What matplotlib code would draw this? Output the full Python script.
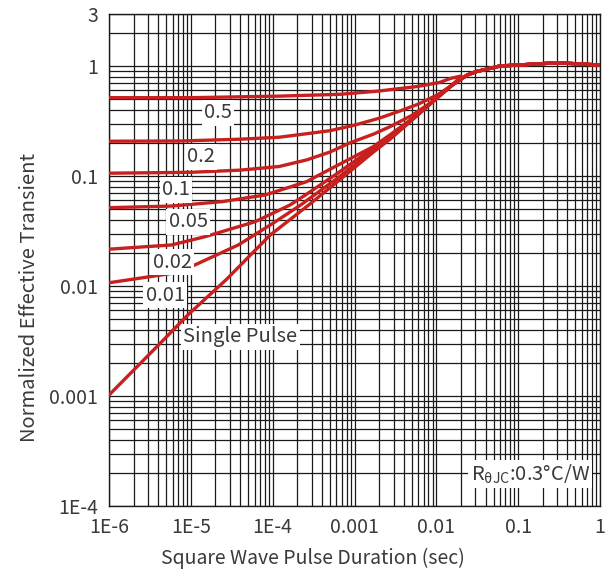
import matplotlib
matplotlib.use("Agg")
import matplotlib.pyplot as plt
from matplotlib.ticker import FixedLocator, LogLocator, NullFormatter

plt.rcParams['font.family'] = ['Noto Sans CJK SC', 'DejaVu Sans']

# shared tail once every curve has merged
tail_t = [0.016, 0.024, 0.031, 0.06, 0.1, 0.3, 1.0]
tail_z = [0.68, 0.83, 0.89, 1.0, 1.02, 1.07, 1.02]

# duty-cycle curves before they merge (pulse duration in sec, normalized Zth)
d05_t = [1e-6, 1e-5, 1.2e-4, 6.7e-4, 1.9e-3, 5.8e-3, 0.0111, 0.0148, 0.02]
d05_z = [0.515, 0.515, 0.532, 0.553, 0.59, 0.65, 0.71, 0.77, 0.81]

d02_t = [1e-6, 7.4e-6, 4e-5, 1.2e-4, 5e-4, 1e-3, 2e-3, 3.6e-3, 6e-3, 0.0105]
d02_z = [0.207, 0.208, 0.216, 0.225, 0.258, 0.29, 0.335, 0.39, 0.45, 0.55]

d01_t = [1e-6, 1e-5, 4e-5, 1.2e-4, 2.6e-4, 5e-4, 8.8e-4, 1.7e-3, 2.7e-3, 5e-3, 8.4e-3, 0.0111]
d01_z = [0.106, 0.108, 0.113, 0.122, 0.14, 0.165, 0.2, 0.24, 0.28, 0.355, 0.46, 0.545]

d005_t = [1e-6, 5.8e-6, 2.4e-5, 8.1e-5, 2.6e-4, 5e-4, 1.7e-3, 2.7e-3, 5e-3, 8.4e-3, 0.0111]
d005_z = [0.0515, 0.0533, 0.0584, 0.0672, 0.0888, 0.115, 0.185, 0.236, 0.33, 0.455, 0.542]

d002_t = [1e-6, 5.8e-6, 1.5e-5, 6.1e-5, 1.63e-4, 2.5e-4, 6.1e-4, 1.7e-3, 2.7e-3, 5e-3, 8.4e-3, 0.0111]
d002_z = [0.0216, 0.0236, 0.0281, 0.0384, 0.0545, 0.067, 0.105, 0.18, 0.226, 0.326, 0.454, 0.541]

d001_t = [1e-6, 5.8e-6, 1.07e-5, 3.8e-5, 1e-4, 2.2e-4, 6.1e-4, 1.7e-3, 2.7e-3, 5e-3, 8.4e-3, 0.0111]
d001_z = [0.0107, 0.013, 0.0153, 0.0236, 0.037, 0.0545, 0.095, 0.17, 0.22, 0.323, 0.452, 0.54]

single_t = [1e-6, 4.2e-6, 9.3e-6, 2.7e-5, 9.3e-5, 2.8e-4, 6.1e-4, 1.7e-3, 2.7e-3, 5e-3, 8.4e-3, 0.0111]
single_z = [0.00102, 0.003, 0.0055, 0.0114, 0.029, 0.055, 0.088, 0.165, 0.215, 0.32, 0.45, 0.54]

curves = [(d05_t, d05_z), (d02_t, d02_z), (d01_t, d01_z), (d005_t, d005_z),
          (d002_t, d002_z), (d001_t, d001_z), (single_t, single_z)]

labels = ["0.5", "0.2", "0.1", "0.05", "0.02", "0.01", "Single Pulse"]
label_t = [2.15e-5, 1.33e-5, 6.6e-6, 9.25e-6, 5.9e-6, 4.84e-6, 4.0e-5]
label_z = [0.374, 0.149, 0.0746, 0.0382, 0.0165, 0.00828, 0.00344]

xticks = [1e-6, 1e-5, 1e-4, 1e-3, 1e-2, 1e-1, 1]
xtick_labels = ["1E-6", "1E-5", "1E-4", "0.001", "0.01", "0.1", "1"]
yticks = [1e-4, 1e-3, 1e-2, 1e-1, 1, 3]
ytick_labels = ["1E-4", "0.001", "0.01", "0.1", "1", "3"]

red = "#c8201e"
text_color = "#3a3a3a"
fs = 14.5

fig = plt.figure(figsize=(6.13, 5.76), dpi=100)
ax = fig.add_axes([109 / 613, 70 / 576, 491 / 613, 492.5 / 576])
ax.set_xscale("log")
ax.set_yscale("log")
ax.set_xlim(1e-6, 1)
ax.set_ylim(1e-4, 3)

for t, z in curves:
    ax.plot(list(t) + tail_t, list(z) + tail_z, color=red, lw=2.4,
            solid_capstyle="round", zorder=3)

for s, t, z in zip(labels, label_t, label_z):
    ax.text(t, z, s, ha="center", va="center", fontsize=fs, color=text_color,
            fontweight="light", zorder=4,
            bbox=dict(boxstyle="square,pad=0.12", fc="white", ec="none"))

ax.text(0.14, 1.95e-4, "R$_{\\mathregular{θJC}}$:0.3°C/W", ha="center", va="center",
        fontsize=fs, color=text_color, fontweight="light", zorder=4,
        bbox=dict(boxstyle="square,pad=0.12", fc="white", ec="none"))

ax.xaxis.set_major_locator(FixedLocator(xticks))
ax.set_xticklabels(xtick_labels)
ax.yaxis.set_major_locator(FixedLocator(yticks))
ax.set_yticklabels(ytick_labels)
for axis in (ax.xaxis, ax.yaxis):
    axis.set_minor_locator(LogLocator(base=10, subs=range(2, 10), numticks=20))
    axis.set_minor_formatter(NullFormatter())

ax.grid(True, which="both", color="#1a1a1a", lw=0.9, zorder=1)
ax.set_axisbelow(True)
ax.tick_params(which="both", length=0, labelsize=14, labelcolor=text_color)
ax.tick_params(axis="x", pad=8)
ax.tick_params(axis="y", pad=8)
for lab in ax.get_xticklabels() + ax.get_yticklabels():
    lab.set_fontweight("light")
for sp in ax.spines.values():
    sp.set_color("#1a1a1a")
    sp.set_linewidth(1.0)

ax.set_xlabel("Square Wave Pulse Duration (sec)", fontsize=14, color=text_color,
              fontweight="light")
ax.set_ylabel("Normalized Effective Transient", fontsize=14.5, color=text_color,
              fontweight="light")
ax.xaxis.set_label_coords(0.415, -0.084)
ax.yaxis.set_label_coords(-0.14, 0.424)

fig.savefig("out.png", dpi=100)
